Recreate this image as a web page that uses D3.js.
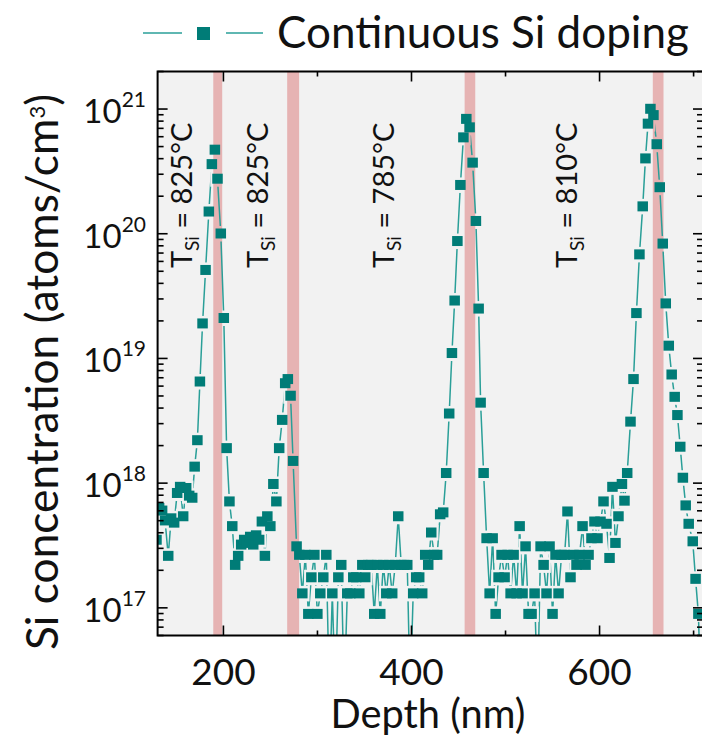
<!DOCTYPE html>
<html><head><meta charset="utf-8">
<script src="https://cdn.jsdelivr.net/npm/d3@7"></script>
<style>
html,body{margin:0;padding:0;background:#fff;}
text{font-family:Lato,"Open Sans",sans-serif;fill:#111;}
</style></head>
<body><svg id="chart" width="702" height="739"></svg>
<script>
// ---- data ----
const depthNm = [128.8,131.6,134.8,138.0,141.3,144.4,147.6,150.8,154.0,157.2,160.4,163.6,166.8,169.4,172.3,175.0,177.8,181.0,184.5,187.7,190.9,193.7,197.2,200.4,
203.4,206.4,209.4,212.5,215.7,218.9,222.1,225.3,228.5,231.7,234.8,238.0,240.9,244.1,246.7,249.9,253.1,256.3,259.3,262.5,265.7,268.5,271.4,274.1,277.8,
280.7,283.9,287.1,290.3,293.5,296.7,299.9,303.0,306.2,309.4,312.6,315.8,319.0,322.2,325.3,328.5,331.7,334.9,338.1,341.3,344.5,347.7,350.8,354.0,357.2,360.4,363.6,366.8,370.0,373.2,376.3,379.5,382.7,385.9,389.1,392.3,395.5,398.6,401.8,405.0,408.2,411.4,414.6,417.8,421.0,424.1,427.3,430.5,433.7,436.9,440.1,443.0,445.9,448.8,452.0,455.2,458.3,461.8,465.0,468.5,471.4,473.5,476.7,
479.9,483.1,486.3,489.5,492.6,495.8,499.0,502.2,505.4,508.6,511.8,515.0,518.1,521.3,524.5,527.7,530.9,534.1,537.3,540.5,543.6,546.8,550.0,553.2,556.4,559.6,562.8,565.9,569.1,572.3,575.5,578.7,581.9,585.1,588.3,591.4,594.6,597.8,601.0,604.2,607.4,610.6,613.7,616.9,620.1,623.8,626.5,629.4,
632.9,636.1,639.2,642.4,645.9,648.8,651.5,654.1,657.3,660.8,664.0,667.2,670.4,673.6,676.7,679.9,682.8,685.8,688.6,691.6,694.8,699.1,702.1,705.1,707.8];
// Si concentration (atoms/cm^3); 0 = below detection (signal drops out)
const siConc = [3.5e17,6.3e17,6.0e17,5.0e17,2.6e17,5.2e17,4.8e17,8.3e17,9.3e17,5.4e17,9.1e17,7.9e17,7.6e17,1.35e18,2.2e18,6.5e18,1.9e19,5.1e19,1.5e20,3.6e20,4.7e20,2.75e20,1.0e20,2.1e19,
1.9e18,7.1e17,4.5e17,2.2e17,2.6e17,3.2e17,3.5e17,3.3e17,3.7e17,3.2e17,3.8e17,3.5e17,4.9e17,2.6e17,5.4e17,4.5e17,9.8e17,7.1e17,1.9e18,3.2e18,6.3e18,6.8e18,5.0e18,1.5e18,3.1e17,
2.65e17,1.3e17,2.65e17,8.9e16,1.75e17,2.65e17,8.9e16,1.3e17,1.75e17,2.65e17,0,1.3e17,0,1.75e17,2.2e17,0,1.3e17,1.3e17,1.75e17,1.75e17,1.3e17,2.2e17,1.75e17,2.2e17,2.2e17,8.9e16,2.2e17,8.9e16,2.2e17,1.3e17,2.2e17,1.3e17,2.2e17,5.4e17,2.2e17,2.2e17,2.2e17,0,1.3e17,1.75e17,1.75e17,1.3e17,2.65e17,2.2e17,4.0e17,2.65e17,2.65e17,5.6e17,5.8e17,1.2e18,3.6e18,1.1e19,2.9e19,8.7e19,2.45e20,5.9e20,8.3e20,7.1e20,3.7e20,1.26e20,2.5e19,4.4e18,1.2e18,
3.6e17,1.3e17,3.6e17,8.9e16,1.75e17,2.65e17,1.75e17,2.65e17,1.3e17,2.65e17,1.3e17,4.5e17,1.3e17,3.1e17,8.9e16,8.9e16,1.3e17,0,3.1e17,2.2e17,1.3e17,3.1e17,8.9e16,2.65e17,1.3e17,2.65e17,2.65e17,5.9e17,1.75e17,2.65e17,2.2e17,2.65e17,4.5e17,2.2e17,2.65e17,3.6e17,4.9e17,3.6e17,4.9e17,7.1e17,4.7e17,2.5e17,9.3e17,3.3e17,5.4e17,9.8e17,7.2e17,1.2e18,
3.1e18,6.8e18,2.3e19,6.8e19,1.65e20,4.0e20,7.6e20,1.0e21,8.9e20,5.2e20,2.35e20,8.3e19,2.75e19,1.26e19,7.4e18,4.9e18,3.5e18,1.95e18,1.1e18,6.6e17,4.7e17,3.4e17,1.7e17,8.9e16,0];
// shaded growth-interruption bands (nm)
const bandStart = [189.2, 267.8, 456.5, 656.6];
const bandEnd   = [198.7, 280.5, 467.8, 668.0];
// temperature annotations
const annotTemp = ["825", "825", "785", "810"];
const xTicks = [200, 400, 600];
const xMinorTicks = [200, 300, 400, 500, 600, 700];
const yExponents = [17, 18, 19, 20, 21];
const seriesName = "Continuous Si doping";
const xTitle = "Depth (nm)";

// ---- layout ----
const svg = d3.select("#chart");
const L = 157.6, R = 703, T = 71.5, B = 635.5;
const x = d3.scaleLinear().domain([130, 710]).range([L, R]);
const y = d3.scaleLog().domain([6e16, 2e21]).range([B, T]);
const markerCol = "#007c77", lineCol = "#2a9f98";
const ms = 10.5;

const pts = depthNm.map((d,i)=>({d, v: siConc[i]}));
const shown = pts.filter(p=>p.v>0);
const yv = v => v > 0 ? y(v) : B + 60;

const defs = svg.append("defs");
defs.append("clipPath").attr("id","clip")
  .append("rect").attr("x",L).attr("y",T).attr("width",R-L).attr("height",B-T);
// mask that opens a small gap in the line around every symbol
const mask = defs.append("mask").attr("id","gapmask").attr("maskUnits","userSpaceOnUse")
  .attr("x",0).attr("y",0).attr("width",702).attr("height",739);
mask.append("rect").attr("x",0).attr("y",0).attr("width",702).attr("height",739).attr("fill","#fff");
mask.selectAll("rect.g").data(shown).enter().append("rect")
  .attr("x",p=>x(p.d)-ms/2-2).attr("y",p=>y(p.v)-ms/2-2.5)
  .attr("width",ms+4).attr("height",ms+5).attr("fill","#000");

svg.append("rect").attr("x",L).attr("y",T).attr("width",R-L).attr("height",B-T).attr("fill","#f2f2f2");

const plot = svg.append("g").attr("clip-path","url(#clip)");
plot.selectAll("rect.band").data(bandStart).enter().append("rect")
  .attr("class","band")
  .attr("x",(d)=>x(d)).attr("width",(d,i)=>x(bandEnd[i])-x(d))
  .attr("y",T).attr("height",B-T).attr("fill","#e6b3b3");

const line = d3.line().x(p=>x(p.d)).y(p=>yv(p.v));
plot.append("g").attr("mask","url(#gapmask)")
  .append("path").datum(pts).attr("d",line).attr("fill","none")
  .attr("stroke",lineCol).attr("stroke-width",1.5);
plot.selectAll("rect.mk").data(shown).enter().append("rect")
  .attr("x",p=>x(p.d)-ms/2).attr("y",p=>y(p.v)-ms/2)
  .attr("width",ms).attr("height",ms-0.5).attr("fill",markerCol);

// ---- axes ----
const ax = svg.append("g");
const majorY = yExponents.map(e=>Math.pow(10,e));
const minorY = [];
[16,17,18,19,20,21].forEach(e=>{for(let k=2;k<=9;k++){const v=k*Math.pow(10,e); if(v>=6e16&&v<=2e21) minorY.push(v);}});
function tick(x1,y1,x2,y2){ax.append("line").attr("x1",x1).attr("y1",y1).attr("x2",x2).attr("y2",y2).attr("stroke","#000").attr("stroke-width",1.6);}
majorY.forEach(v=>{tick(L,y(v),L+10,y(v)); tick(R,y(v),R-10,y(v));});
minorY.forEach(v=>{tick(L,y(v),L+6,y(v)); tick(R,y(v),R-6,y(v));});
xMinorTicks.forEach(v=>{const big = xTicks.includes(v); const len = big?10:5;
  tick(x(v),B,x(v),B-len); tick(x(v),T,x(v),T+len);});
ax.append("rect").attr("x",L).attr("y",T).attr("width",R-L).attr("height",B-T)
  .attr("fill","none").attr("stroke","#000").attr("stroke-width",2);

// y tick labels
yExponents.forEach(e=>{
  const t = svg.append("text").attr("x",146).attr("y",y(Math.pow(10,e))+14)
    .attr("text-anchor","end").style("font-size","33px");
  t.append("tspan").text("10");
  t.append("tspan").attr("dy",-16).style("font-size","21px").text(String(e));
});
// x tick labels
xTicks.forEach(v=>{
  svg.append("text").attr("x",x(v)).attr("y",685).attr("text-anchor","middle")
    .style("font-size","37px").text(String(v));
});
// titles
function fit(sel, w){const cur=sel.node().getComputedTextLength(); const fs=parseFloat(sel.style("font-size")); sel.style("font-size",(fs*w/cur)+"px");}
const xt = svg.append("text").attr("x",428).attr("y",728).attr("text-anchor","middle").style("font-size","36px").text(xTitle);
fit(xt,195);
const yt = svg.append("text").attr("transform","translate(58,372) rotate(-90)").attr("text-anchor","middle").style("font-size","34px");
yt.append("tspan").text("Si concentration (atoms/cm");
yt.append("tspan").attr("dy",-13).style("font-size","22px").text("3");
yt.append("tspan").attr("dy",13).text(")");
fit(yt,560);

// annotations
const annX = [192, 268, 394, 577];
annotTemp.forEach((tc,i)=>{
  const t = svg.append("text").attr("transform",`translate(${annX[i]},268) rotate(-90)`).style("font-size","29px");
  t.append("tspan").text("T");
  t.append("tspan").attr("dy",7).style("font-size","19px").text("Si");
  t.append("tspan").attr("dy",-7).text(" = " + tc + "°C");
});

// legend
const lg = svg.append("g");
lg.append("line").attr("x1",143).attr("x2",182).attr("y1",33).attr("y2",33).attr("stroke",lineCol).attr("stroke-width",1.6);
lg.append("line").attr("x1",226).attr("x2",263).attr("y1",33).attr("y2",33).attr("stroke",lineCol).attr("stroke-width",1.6);
lg.append("rect").attr("x",197).attr("y",27).attr("width",13).attr("height",13).attr("fill",markerCol);
const lt = lg.append("text").attr("x",277).attr("y",48).style("font-size","42px").text(seriesName);
fit(lt,412);
</script></body></html>
